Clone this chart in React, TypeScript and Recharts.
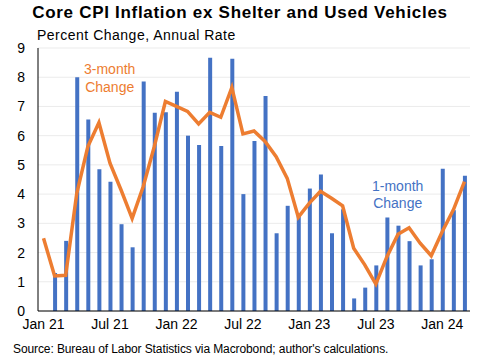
import React from "react";
import {
  ComposedChart,
  Bar,
  Line,
  XAxis,
  YAxis,
  CartesianGrid,
} from "recharts";

const months = [
  "Jan 21", "Feb 21", "Mar 21", "Apr 21", "May 21", "Jun 21",
  "Jul 21", "Aug 21", "Sep 21", "Oct 21", "Nov 21", "Dec 21",
  "Jan 22", "Feb 22", "Mar 22", "Apr 22", "May 22", "Jun 22",
  "Jul 22", "Aug 22", "Sep 22", "Oct 22", "Nov 22", "Dec 22",
  "Jan 23", "Feb 23", "Mar 23", "Apr 23", "May 23", "Jun 23",
  "Jul 23", "Aug 23", "Sep 23", "Oct 23", "Nov 23", "Dec 23",
  "Jan 24", "Feb 24", "Mar 24",
];

// 1-month change, annualized
const oneMonth = [
  null, 1.3, 2.4, 8.0, 6.55, 4.85,
  4.42, 2.97, 2.18, 7.85, 6.78, 6.8,
  7.5, 6.0, 5.68, 8.67, 5.65, 8.63,
  4.0, 5.82, 7.36, 2.66, 3.6, 3.25,
  4.19, 4.67, 2.66, 3.48, 0.43, 0.8,
  1.56, 3.2, 2.92, 2.39, 1.56, 1.77,
  4.87, 3.45, 4.63,
];

// 3-month change, annualized
const threeMonth = [
  2.49, 1.2, 1.22, 4.03, 5.63, 6.45,
  5.06, 4.14, 3.17, 4.26, 5.63, 7.17,
  7.0, 6.83, 6.4, 6.8, 6.63, 7.65,
  6.06, 6.16, 5.8, 5.28, 4.54, 3.21,
  3.69, 4.1, 3.86, 3.6, 2.15, 1.58,
  0.92, 1.86, 2.63, 2.85, 2.32, 1.89,
  2.72, 3.46, 4.43,
];

const yTicks = [0, 1, 2, 3, 4, 5, 6, 7, 8, 9];

const data = months.map((m, i) => ({
  month: m,
  one: oneMonth[i],
  three: threeMonth[i],
}));

const BLUE = "#4472C4";
const ORANGE = "#ED7D31";
const FONT = "'Liberation Sans', Arial, sans-serif";

export default function App() {
  return (
    <div
      style={{
        position: "absolute",
        left: 0,
        top: 0,
        width: 480,
        height: 360,
        background: "#fff",
        fontFamily: FONT,
      }}
    >
      <div
        style={{
          position: "absolute",
          top: 3,
          left: 0,
          width: 480,
          textAlign: "center",
          fontWeight: "bold",
          fontSize: 17,
          letterSpacing: 0.7,
          color: "#000",
        }}
      >
        Core CPI Inflation ex Shelter and Used Vehicles
      </div>
      <div
        style={{
          position: "absolute",
          top: 27,
          left: 37,
          fontSize: 14,
          letterSpacing: 0.5,
          color: "#000",
        }}
      >
        Percent Change, Annual Rate
      </div>

      <ComposedChart
        width={480}
        height={360}
        data={data}
        margin={{ top: 48, right: 10, bottom: 27, left: 0 }}
        barCategoryGap={0}
      >
        <CartesianGrid vertical={false} stroke="#ebebeb" />
        <XAxis
          dataKey="month"
          interval={5}
          tickLine={false}
          axisLine={{ stroke: "#000" }}
          tick={{ fill: "#000", fontSize: 14, fontFamily: FONT }}
          tickMargin={2}
          height={22}
        />
        <XAxis
          xAxisId="top"
          orientation="top"
          dataKey="month"
          tick={false}
          tickLine={false}
          axisLine={{ stroke: "#000" }}
          height={0}
        />
        <YAxis
          domain={[0, 9]}
          ticks={yTicks}
          interval={0}
          tickLine={false}
          axisLine={{ stroke: "#000" }}
          tick={{ fill: "#000", fontSize: 14, fontFamily: FONT }}
          tickMargin={7}
          width={38}
        />
        <YAxis
          yAxisId="right"
          orientation="right"
          domain={[0, 9]}
          tick={false}
          tickLine={false}
          axisLine={{ stroke: "#000" }}
          width={0}
        />
        <Bar dataKey="one" fill={BLUE} barSize={4} isAnimationActive={false} />
        <Line
          dataKey="three"
          type="linear"
          stroke={ORANGE}
          strokeWidth={3.5}
          dot={false}
          activeDot={false}
          isAnimationActive={false}
        />
      </ComposedChart>

      <div
        style={{
          position: "absolute",
          left: 84,
          top: 60,
          fontSize: 14,
          color: ORANGE,
          lineHeight: "18px",
          textAlign: "center",
        }}
      >
        3-month
        <br />
        Change
      </div>
      <div
        style={{
          position: "absolute",
          left: 372,
          top: 178,
          fontSize: 14,
          color: BLUE,
          lineHeight: "17px",
          textAlign: "center",
        }}
      >
        1-month
        <br />
        Change
      </div>
      <div
        style={{
          position: "absolute",
          left: 13,
          top: 342,
          fontSize: 12,
          letterSpacing: -0.1,
          color: "#000",
        }}
      >
        Source: Bureau of Labor Statistics via Macrobond; author's calculations.
      </div>
    </div>
  );
}
